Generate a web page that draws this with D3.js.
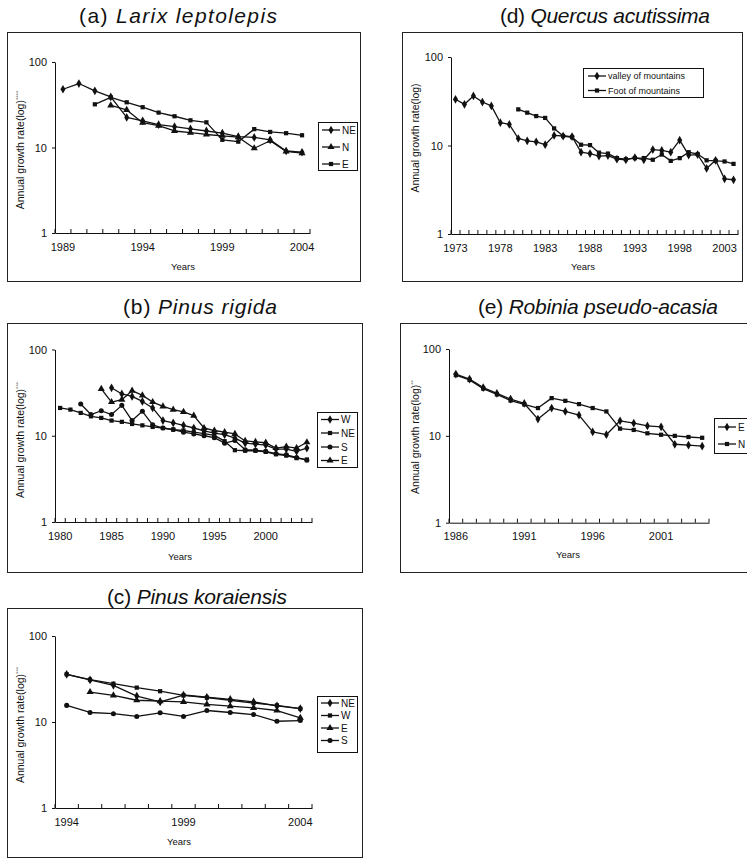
<!DOCTYPE html>
<html><head><meta charset="utf-8">
<script src="https://cdn.jsdelivr.net/npm/d3@7"></script>
<style>
html,body{margin:0;padding:0;background:#fff;overflow:hidden}
svg{display:block}
text{font-family:"Liberation Sans",Arial,sans-serif;fill:#111}
.tick text{font-family:"Liberation Sans Narrow","Arial Narrow","Liberation Sans",Arial,sans-serif}
</style></head><body>
<svg id="chart" width="747" height="860"></svg>
<script>
// ---------- data ----------
const aYears = [1989,1990,1991,1992,1993,1994,1995,1996,1997,1998,1999,2000,2001,2002,2003,2004];
const aTicks = [1989,1994,1999,2004];
const aNE = [48,56,46,39,22.5,20.5,18.5,17.5,16.5,15.6,14.7,13.4,13.1,12.3,9.1,8.8];
const aN  = [null,null,null,31,27.5,19.5,18,15.6,14.9,14.2,13.7,13.2,9.8,12,9,8.6];
const aE  = [null,null,32,38.5,33.8,29.6,25.6,23.2,20.8,19.7,12.3,11.7,16.4,15.2,14.7,13.9];

const bYears = [1980,1981,1982,1983,1984,1985,1986,1987,1988,1989,1990,1991,1992,1993,1994,1995,1996,1997,1998,1999,2000,2001,2002,2003,2004];
const bTicks = [1980,1985,1990,1995,2000];
const bW  = [null,null,null,null,null,36,30.5,28.6,25,21,15,14.1,13.2,12.3,11.4,10.7,10.3,9.4,8.2,8.0,7.8,7.0,7.0,6.6,7.2];
const bNE = [21,20.1,18.4,16.8,16.1,15,14.5,13.7,13.2,12.65,12.3,11.8,11.5,11,10.6,10.1,8.65,6.8,6.7,6.7,6.5,6.1,5.9,5.5,5.3];
const bS  = [null,null,23.3,17.6,19.5,17.6,22.5,15,19.2,13.4,12.3,11.8,11,10.5,10,9.5,8.2,8.8,6.9,6.8,6.6,6.2,6.0,5.6,5.2];
const bE  = [null,null,null,null,35,24.6,26.2,33.3,29.4,24.6,21.9,20.1,18.9,17.1,12.3,11.5,11,10.5,8.7,8.5,8.3,7.2,7.5,7.2,8.4];

const cYears = [1994,1995,1996,1997,1998,1999,2000,2001,2002,2003,2004];
const cTicks = [1994,1999,2004];
const cNE = [35.9,30.8,26.7,20,17.1,20.6,19.4,18.3,17.1,15.4,14.3];
const cW  = [35.9,31.1,27.9,25.1,22.8,20.4,19.2,17.9,16.6,15.6,14.3];
const cE  = [null,22.3,20.4,17.9,17.5,17.1,16,15.3,14.6,13.6,11.2];
const cS  = [15.6,12.9,12.5,11.6,12.8,11.6,13.6,12.9,12.2,10.2,10.4];

const dYears = [1973,1974,1975,1976,1977,1978,1979,1980,1981,1982,1983,1984,1985,1986,1987,1988,1989,1990,1991,1992,1993,1994,1995,1996,1997,1998,1999,2000,2001,2002,2003,2004];
const dTicks = [1973,1978,1983,1988,1993,1998,2003];
const dValley = [33.3,29.2,36.3,31,28,18.1,17.3,12,11.3,11,10.2,13,12.8,12.6,8.4,8.1,7.6,7.7,7.0,6.9,7.3,6.9,9.0,8.8,8.4,11.5,7.8,7.9,5.5,6.8,4.2,4.1];
const dFoot = [null,null,null,null,null,null,null,25.6,23.5,21.5,20.5,15.6,12.8,12.4,10.2,10.1,8.3,8.1,7.2,7.0,7.2,7.2,6.9,7.9,6.7,7.2,8.4,8.0,6.8,6.7,6.6,6.2];

const eYears = [1986,1987,1988,1989,1990,1991,1992,1993,1994,1995,1996,1997,1998,1999,2000,2001,2002,2003,2004];
const eTicks = [1986,1991,1996,2001];
const eE = [51.5,45,36,30.8,26.5,23.6,15.6,20.9,19.1,17.3,11.1,10.3,14.9,14,13,12.7,8.0,7.8,7.6];
const eN = [50,44,35,30,25.5,23,20.9,27.2,25.3,23.2,20.9,19.1,12.1,11.7,10.7,10.3,10,9.7,9.5];

const yTickValues = [1,10,100];
const yLabel = "Annual growth rate(log)";
const xLabel = "Years";

// ---------- layout ----------
const panels = [
  {label:"(a)", species:"Larix leptolepis", years:aYears, ticks:aTicks, stars:"****",
   series:[{name:"NE",sym:"diamond",values:aNE},{name:"N",sym:"triangle",values:aN},{name:"E",sym:"square",values:aE}],
   frame:[7.5,32.5,353,249], plot:{x0:55,x1:310,yTop:62,yBot:233}, title:{cx:178,y:23,w:198},
   ylab:{x:24,cy:150}, xlab:{cx:183,y:270},
   legend:{x:318.5,y:122.5,w:39,h:48,rows:[130,147,164],lx0:322,lx1:340,tx:342,fs:10}},
  {label:"(b)", species:"Pinus rigida", years:bYears, ticks:bTicks, stars:"***",
   series:[{name:"W",sym:"diamond",values:bW},{name:"NE",sym:"square",values:bNE},{name:"S",sym:"circle",values:bS},{name:"E",sym:"triangle",values:bE}],
   frame:[7.5,323.5,355,249], plot:{x0:55,x1:312,yTop:349.5,yBot:522}, title:{cx:200,y:314,w:154},
   ylab:{x:24,cy:440}, xlab:{cx:180,y:560},
   legend:{x:317.5,y:412.5,w:40,h:55,rows:[419.5,433,447,460.5],lx0:321,lx1:339,tx:341,fs:10}},
  {label:"(c)", species:"Pinus koraiensis", years:cYears, ticks:cTicks, stars:"***",
   series:[{name:"NE",sym:"diamond",values:cNE},{name:"W",sym:"square",values:cW},{name:"E",sym:"triangle",values:cE},{name:"S",sym:"circle",values:cS}],
   frame:[7.5,608.5,355,249], plot:{x0:55,x1:312,yTop:636,yBot:808}, title:{cx:197,y:604,w:180},
   ylab:{x:24,cy:725}, xlab:{cx:179,y:845},
   legend:{x:317.5,y:696.5,w:40,h:56,rows:[703,715.5,728,740.5],lx0:321,lx1:339,tx:341,fs:10}},
  {label:"(d)", species:"Quercus acutissima", years:dYears, ticks:dTicks, stars:"",
   series:[{name:"valley of mountains",sym:"diamond",values:dValley},{name:"Foot of mountains",sym:"square",values:dFoot}],
   frame:[402.5,32.5,340,249], plot:{x0:451,x1:738,yTop:57,yBot:234}, title:{cx:605,y:23,w:210},
   ylab:{x:419,cy:138}, xlab:{cx:583,y:270},
   legend:{x:583.5,y:68.5,w:120,h:29,rows:[76,90.5],lx0:588,lx1:606,tx:608,fs:9}},
  {label:"(e)", species:"Robinia pseudo-acasia", years:eYears, ticks:eTicks, stars:"**",
   series:[{name:"E",sym:"diamond",values:eE},{name:"N",sym:"square",values:eN}],
   frame:[400.5,323.5,360,249], plot:{x0:449,x1:709,yTop:349,yBot:522.7}, title:{cx:598,y:314,w:240},
   ylab:{x:419,cy:437}, xlab:{cx:568,y:558},
   legend:{x:714.5,y:418.5,w:40,h:35,rows:[427,444],lx0:718,lx1:736,tx:738,fs:10}}
];

const symbolTypes = {diamond:d3.symbolDiamond, square:d3.symbolSquare, triangle:d3.symbolTriangle, circle:d3.symbolCircle};
const symbolSizes = {diamond:22, square:18, triangle:22, circle:20};

const svg = d3.select("#chart");
svg.append("rect").attr("width",747).attr("height",860).attr("fill","#fff");

panels.forEach(drawPanel);

function drawPanel(p){
  const g = svg.append("g");
  const [fx,fy,fw,fh] = p.frame;
  g.append("rect").attr("x",fx).attr("y",fy).attr("width",fw).attr("height",fh)
    .attr("fill","none").attr("stroke","#222").attr("stroke-width",1);

  const t = g.append("text").attr("x",p.title.cx - p.title.w/2).attr("y",p.title.y)
    .attr("text-anchor","start").style("font-size","21px")
    .attr("textLength",p.title.w).attr("lengthAdjust","spacing");
  t.append("tspan").text(p.label + " ");
  t.append("tspan").style("font-style","italic").text(p.species);

  const x = d3.scaleBand().domain(p.years).range([p.plot.x0,p.plot.x1]).padding(0);
  const y = d3.scaleLog().domain([1,100]).range([p.plot.yBot,p.plot.yTop]);
  const cx = v => x(v) + x.bandwidth()/2;

  // y axis
  const ya = g.append("g").attr("transform",`translate(${p.plot.x0},0)`)
    .call(d3.axisLeft(y).tickValues(yTickValues).tickFormat(d3.format("d"))
      .tickSizeInner(3).tickSizeOuter(0).tickPadding(5));
  ya.selectAll("text").style("font-size","11px");
  ya.selectAll("path,line").attr("stroke","#111");

  // x axis
  const xa = g.append("g").attr("transform",`translate(0,${p.plot.yBot})`)
    .call(d3.axisBottom(x).tickValues(p.ticks).tickSize(0).tickPadding(10));
  xa.selectAll("text").style("font-size","11px");
  xa.select(".domain").attr("stroke","#111");
  const bounds = p.years.map(v => x(v)).concat([p.plot.x1]);
  g.append("g").selectAll("line").data(bounds).join("line")
    .attr("x1",d=>d).attr("x2",d=>d).attr("y1",p.plot.yBot).attr("y2",p.plot.yBot-4)
    .attr("stroke","#111").attr("stroke-width",1);

  // axis titles
  const yl = g.append("text").attr("transform",`translate(${p.ylab.x},${p.ylab.cy}) rotate(-90)`)
    .attr("text-anchor","middle").style("font-size","10.5px");
  yl.append("tspan").text(yLabel);
  if (p.stars) yl.append("tspan").attr("dy",-4).style("font-size","6px").style("fill","#666").text(p.stars);
  g.append("text").attr("x",p.xlab.cx).attr("y",p.xlab.y).attr("text-anchor","middle")
    .style("font-size","9.5px").text(xLabel);

  // series
  const line = d3.line().defined(d => d.v != null).x(d => cx(d.yr)).y(d => y(d.v));
  p.series.forEach(s => {
    const pts = s.values.map((v,i) => ({yr:p.years[i], v:v}));
    g.append("path").datum(pts).attr("d",line).attr("fill","none")
      .attr("stroke","#111").attr("stroke-width",1.3).attr("stroke-linejoin","round");
    g.append("g").selectAll("path").data(pts.filter(d => d.v != null)).join("path")
      .attr("transform",d => `translate(${cx(d.yr)},${y(d.v)})`)
      .attr("d",d3.symbol().type(symbolTypes[s.sym]).size(symbolSizes[s.sym]))
      .attr("fill","#111");
  });

  // legend
  const L = p.legend;
  const lg = g.append("g");
  lg.append("rect").attr("x",L.x).attr("y",L.y).attr("width",L.w).attr("height",L.h)
    .attr("fill","#fff").attr("stroke","#111").attr("stroke-width",1);
  p.series.forEach((s,i) => {
    const ry = L.rows[i];
    lg.append("line").attr("x1",L.lx0).attr("x2",L.lx1).attr("y1",ry).attr("y2",ry)
      .attr("stroke","#111").attr("stroke-width",1.3);
    lg.append("path").attr("transform",`translate(${(L.lx0+L.lx1)/2},${ry})`)
      .attr("d",d3.symbol().type(symbolTypes[s.sym]).size(symbolSizes[s.sym])).attr("fill","#111");
    lg.append("text").attr("x",L.tx).attr("y",ry).attr("dy","0.35em")
      .style("font-size",L.fs+"px").text(s.name);
  });
}
</script>
</body></html>
